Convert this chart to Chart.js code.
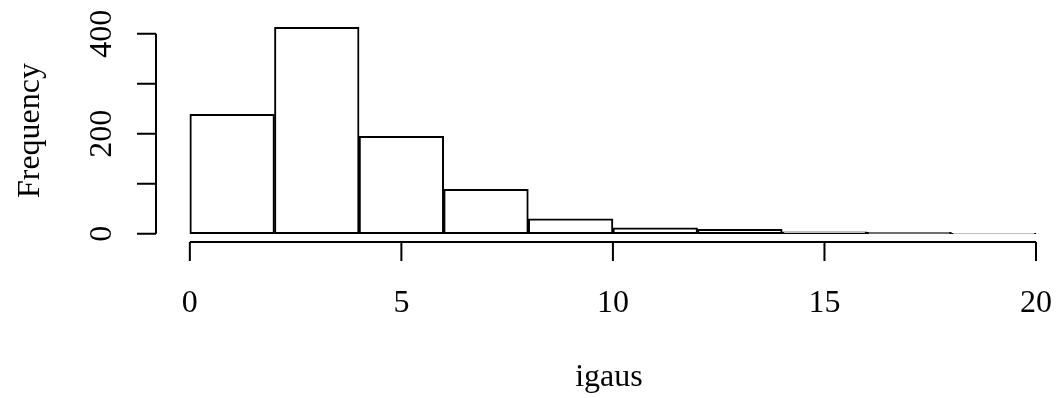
<!DOCTYPE html>
<html>
<head>
<meta charset="utf-8">
<script src="https://cdn.jsdelivr.net/npm/chart.js@4.4.0/dist/chart.umd.min.js"></script>
<style>
  html, body { margin: 0; padding: 0; background: #fff; }
  #wrap { width: 1058px; height: 398px; position: relative; }
</style>
</head>
<body>
<div id="wrap"><canvas id="hist"></canvas></div>
<script>
// histogram of igaus, bins of width 2
const binStarts = [0, 2, 4, 6, 8, 10, 12, 14, 16, 18];
const counts = [239, 413, 195, 89, 30, 12, 9, 4, 3, 1];
const xTicks = [0, 5, 10, 15, 20];
const yTicks = [0, 100, 200, 300, 400];
const yLabels = [0, 200, 400];
const xTitle = 'igaus';
const yTitle = 'Frequency';

const FONT = '32px "Liberation Serif", "DejaVu Serif", serif';

// R-style detached axes drawn from the chart's own scales
const rAxes = {
    id: 'rAxes',
    afterDraw(chart) {
        const { ctx, scales: { x, y }, chartArea } = chart;
        const axX = chartArea.left;
        const axY = chartArea.bottom;
        const tick = 19;
        ctx.save();
        ctx.strokeStyle = '#000';
        ctx.lineWidth = 2;
        ctx.fillStyle = '#000';
        ctx.font = FONT;

        // x axis
        ctx.beginPath();
        ctx.moveTo(x.getPixelForValue(xTicks[0]), axY);
        ctx.lineTo(x.getPixelForValue(xTicks[xTicks.length - 1]), axY);
        xTicks.forEach(v => {
            const px = x.getPixelForValue(v);
            ctx.moveTo(px, axY);
            ctx.lineTo(px, axY + tick);
        });
        ctx.stroke();
        ctx.textAlign = 'center';
        ctx.textBaseline = 'alphabetic';
        xTicks.forEach(v => ctx.fillText(String(v), x.getPixelForValue(v), 312));
        ctx.fillText(xTitle, (chartArea.left + 1062) / 2, 386);

        // y axis
        ctx.beginPath();
        ctx.moveTo(axX, y.getPixelForValue(yTicks[0]));
        ctx.lineTo(axX, y.getPixelForValue(yTicks[yTicks.length - 1]));
        yTicks.forEach(v => {
            const py = y.getPixelForValue(v);
            ctx.moveTo(axX, py);
            ctx.lineTo(axX - tick, py);
        });
        ctx.stroke();
        yLabels.forEach(v => {
            ctx.save();
            ctx.translate(111, y.getPixelForValue(v));
            ctx.rotate(-Math.PI / 2);
            ctx.fillText(String(v), 0, 0);
            ctx.restore();
        });
        ctx.save();
        ctx.translate(39, (chartArea.top + chartArea.bottom) / 2);
        ctx.rotate(-Math.PI / 2);
        ctx.fillText(yTitle, 0, 0);
        ctx.restore();
        ctx.restore();
    }
};

new Chart(document.getElementById('hist'), {
    type: 'bar',
    data: {
        datasets: [{
            data: binStarts.map((b, i) => ({ x: b + 1, y: counts[i] })),
            backgroundColor: '#fff',
            borderColor: '#000',
            borderWidth: 2,
            borderSkipped: false,
            barPercentage: 1,
            categoryPercentage: 1
        }]
    },
    options: {
        responsive: true,
        maintainAspectRatio: false,
        animation: false,
        layout: { padding: { left: 156, top: 19, right: 0, bottom: 156 } },
        plugins: { legend: { display: false }, tooltip: { enabled: false } },
        scales: {
            x: { type: 'linear', display: false, min: -0.8, max: 20.52, offset: false },
            y: { type: 'linear', display: false, min: -16.5, max: 429.5 }
        }
    },
    plugins: [rAxes]
});
</script>
</body>
</html>
